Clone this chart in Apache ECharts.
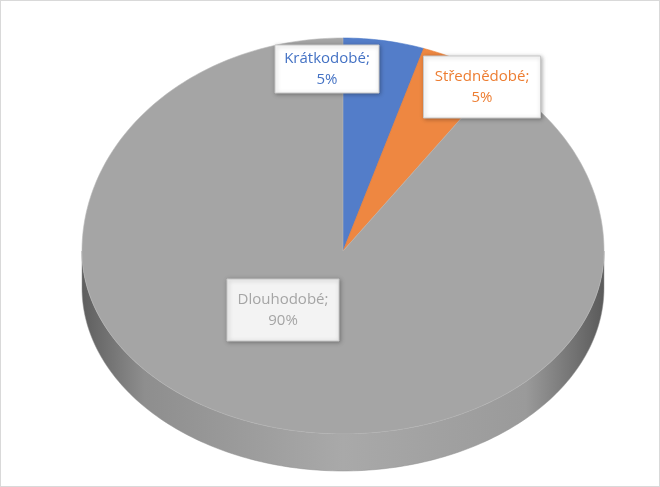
<!DOCTYPE html>
<html><head><meta charset="utf-8">
<script src="https://cdn.jsdelivr.net/npm/echarts@6/dist/echarts.min.js"></script>
<style>html,body{margin:0;background:#fff}#c{width:658px;height:485px;border:1px solid #d9d9d9}</style>
</head><body><div id="c"></div>
<script>
const categories = ['Krátkodobé', 'Střednědobé', 'Dlouhodobé'];
const values = [5, 5, 90];
const colors = ['#4472C4', '#ED7D31', '#A5A5A5'];
const labelText = ['#4472C4', '#ED7D31', '#A5A5A5'];
// label boxes: centre x, centre y, width, height
const labelBox = [[326, 68, 104, 48], [481, 86, 117, 62], [282, 309, 112, 62]];
const labelFill = ['#fff', '#fff', '#f3f3f3'];

const cx = 342, cy = 250, rx = 261, ryTop = 213, ryBot = 183, depth = 37;
const total = values.reduce((a, b) => a + b, 0);
let acc = 0;
const data = values.map((v, i) => { const s = acc; acc += v; return [i, s, v]; });

function pt(t, dy) {
  const c = Math.cos(t);
  return [cx + rx * Math.sin(t), cy - (c > 0 ? ryTop : ryBot) * c + (dy || 0)];
}
function arc(a, b, dy) {
  const pts = [], n = Math.max(2, Math.ceil((b - a) / 0.02));
  for (let k = 0; k <= n; k++) pts.push(pt(a + (b - a) * k / n, dy));
  return pts;
}

const chart = echarts.init(document.getElementById('c'));
chart.setOption({
  animation: false,
  series: [{
    type: 'custom',
    coordinateSystem: 'none',
    data: data,
    renderItem: function (params, api) {
      const i = api.value(0);
      const a = api.value(1) / total * 2 * Math.PI;
      const b = a + api.value(2) / total * 2 * Math.PI;
      const children = [];
      // side wall on the visible front half
      const fa = Math.max(a, Math.PI / 2), fb = Math.min(b, Math.PI * 1.5);
      if (fb > fa) {
        const top = arc(fa, fb, 0), bot = arc(fa, fb, depth).reverse();
        children.push({
          type: 'polygon', shape: { points: top.concat(bot) },
          style: {
            fill: new echarts.graphic.LinearGradient(0, 0, 1, 0, [
              { offset: 0, color: '#5e5e5e' }, { offset: 0.12, color: '#8e8e8e' },
              { offset: 0.5, color: '#a9a9a9' }, { offset: 0.85, color: '#9a9a9a' },
              { offset: 1, color: '#5a5a5a' }]),
            stroke: '#909090', lineWidth: 0.5
          }
        });
      }
      children.push({
        type: 'polygon', shape: { points: [[cx, cy]].concat(arc(a, b, 0)) },
        style: { fill: colors[i], stroke: i === 2 ? '#b8b8b8' : colors[i], lineWidth: 0.6, opacity: i === 2 ? 1 : 0.92 }
      });
      const p = labelBox[i];
      children.push({
        type: 'rect', shape: { x: p[0] - p[2] / 2, y: p[1] - p[3] / 2, width: p[2], height: p[3] },
        style: { fill: labelFill[i], stroke: '#c8c8c8', lineWidth: 1, shadowBlur: 4, shadowColor: 'rgba(0,0,0,0.3)', shadowOffsetX: 1, shadowOffsetY: 1 },
        z2: 10
      });
      children.push({
        type: 'text', x: p[0], y: p[1], z2: 11,
        style: {
          text: categories[i] + ';\n' + Math.round(api.value(2) / total * 100) + '%',
          fill: labelText[i], font: '15px "Open Sans", sans-serif',
          align: 'center', verticalAlign: 'middle', lineHeight: 21
        }
      });
      return { type: 'group', children: children };
    }
  }]
});
</script></body></html>
